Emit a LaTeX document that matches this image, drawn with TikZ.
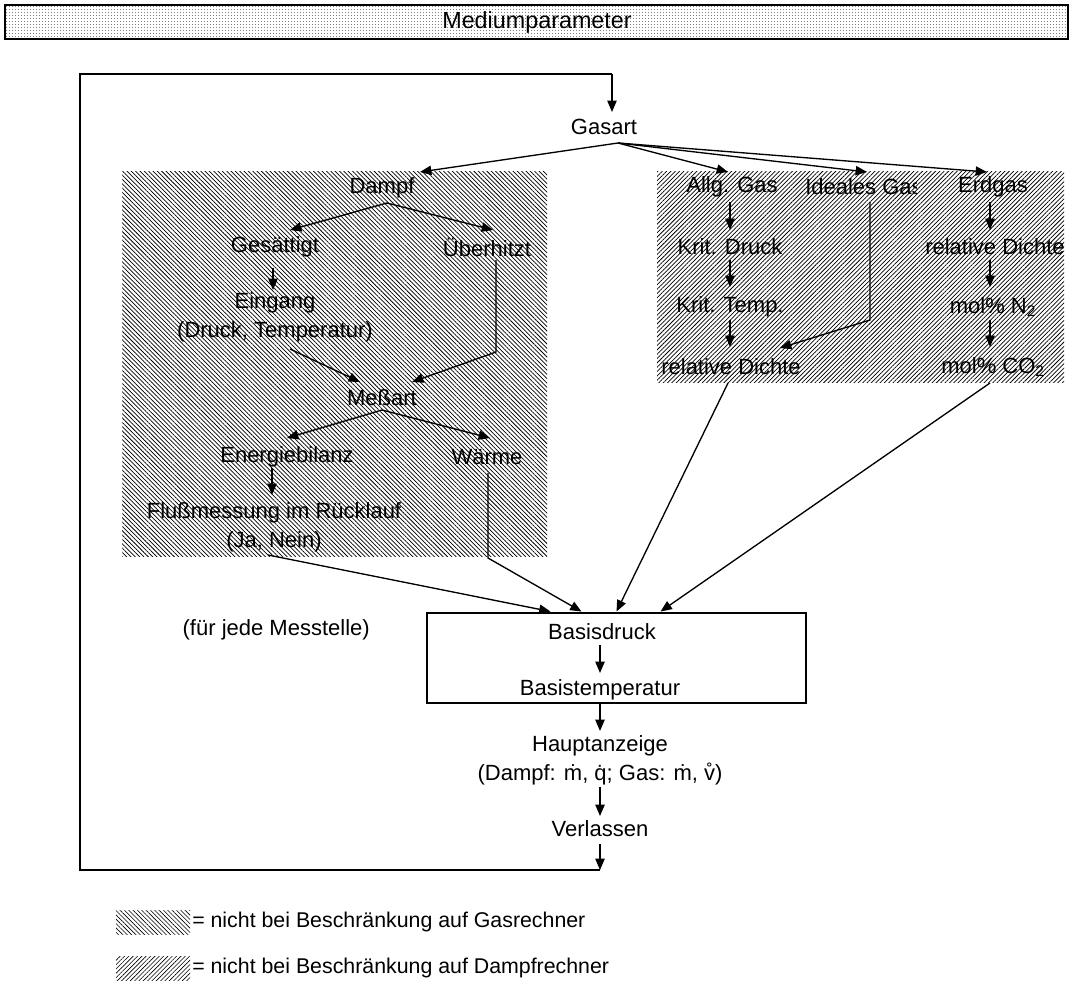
\documentclass[tikz,border=0pt]{standalone}
\usepackage{fontspec}
\setmainfont{Liberation Sans}
\usetikzlibrary{arrows.meta,patterns,patterns.meta,calc}

% fine dot raster for the title bar
\pgfdeclarepatternformonly{finedots}{\pgfpointorigin}{\pgfpoint{2.25pt}{2.25pt}}{\pgfpoint{2.25pt}{2.25pt}}%
  {\pgfpathrectangle{\pgfpointorigin}{\pgfpoint{0.8pt}{0.8pt}}\pgfusepath{fill}}

\begin{document}
\begin{tikzpicture}[x=0.75pt,y=-0.75pt,
  txt/.style={font=\fontsize{16.5}{21.5}\selectfont, inner sep=0pt, align=center},
  arr/.style={line width=1pt, -{Triangle[length=8.5pt,width=7pt]}},
  ln/.style={line width=1pt},
  hatchL/.style={pattern={Lines[angle=-45,distance=2.3pt,line width=0.55pt]}},
  hatchR/.style={pattern={Lines[angle=45,distance=2.3pt,line width=0.55pt]}},
  keyL/.style={pattern={Lines[angle=-45,distance=2.3pt,line width=0.45pt]}},
  keyR/.style={pattern={Lines[angle=45,distance=2.3pt,line width=0.45pt]}},
]
\useasboundingbox (0,0) rectangle (1074,994);

% title bar
\draw[line width=2pt, pattern=finedots, pattern color=gray] (5,5) rectangle (1068,39);
\node[txt, font=\fontsize{17.5}{21}\selectfont] (title) at (537,22) {Mediumparameter};

% hatched areas
\fill[hatchL] (122,172) rectangle (547,556);
\fill[hatchR] (657,172) rectangle (1064,383);

% steam branch
\node[txt] (gasart) at (604,127) {Gasart};
\node[txt] (dampf) at (382,188) {Dampf};
\node[txt] (ges) at (275,247) {Gesättigt};
\node[txt] (ueb) at (487,247) {Überhitzt};
\node[txt] (ein) at (275,317) {Eingang\\(Druck, Temperatur)};
\node[txt] (mess) at (382,398) {Meßart};
\node[txt] (ener) at (287,457) {Energiebilanz};
\node[txt] (waer) at (487,457) {Wärme};
\node[txt] (flu) at (274,527) {Flußmessung im Rücklauf\\(Ja, Nein)};

% gas branch
\node[txt] (allg) at (732,187) {Allg. Gas};
\begin{scope}
  \clip (790,160) rectangle (916,210);
  \node[txt, anchor=west] (ideal) at (805,187) {Ideales Gas};
\end{scope}
\node[txt] (erd) at (993,187) {Erdgas};
\node[txt] (kdr) at (730,247) {Krit. Druck};
\begin{scope}
  \clip (900,225) rectangle (1063,270);
  \node[txt, anchor=west] (relE) at (925,247) {relative Dichte};
\end{scope}
\node[txt] (ktp) at (730,307) {Krit. Temp.};
\node[txt] (n2) at (993,307) {mol\% N\textsubscript{2}};
\node[txt] (relA) at (731,367) {relative Dichte};
\node[txt] (co2) at (993,367) {mol\% CO\textsubscript{2}};

% base values and display
\node[draw, line width=2.2pt, minimum width=284.25pt, minimum height=67.5pt, inner sep=0pt] (box) at (616.5,658) {};
\node[txt] (bdr) at (602,632) {Basisdruck};
\node[txt] (btp) at (600,690) {Basistemperatur};
\node[txt, anchor=east] (fjm) at (370,630) {(für jede Messtelle)};
\node[txt] (haupt) at (600,760) {Hauptanzeige\\(Dampf: \.{m}, \.{q}; Gas: \.{m}, \r{v})};
\node[txt] (verl) at (600,829) {Verlassen};

% fan-out from Gasart
\coordinate (gs) at ($(gasart)+(14,16)$);
\draw[arr] (gs) -- ($(dampf)+(38,-16)$);
\draw[arr] (gs) -- ($(allg)+(-4,-15)$);
\draw[arr] (gs) -- ($(ideal.west)+(62,-15)$);
\draw[arr] (gs) -- ($(erd)+(-6,-15)$);

% steam connections
\draw[arr] ($(dampf)+(5,15)$) -- ($(ges)+(15,-17)$);
\draw[arr] ($(dampf)+(5,15)$) -- ($(ueb)+(6,-17)$);
\draw[arr] ($(ges)+(-2,21)$) -- ($(ein)+(-2,-27)$);
\draw[arr] ($(ueb)+(9,13)$) -- ($(ueb)+(9,105)$) -- ($(mess)+(30,-16)$);
\draw[arr] ($(ein)+(15,32)$) -- ($(mess)+(-22,-16)$);
\draw[arr] ($(mess)+(0,12)$) -- ($(ener)+(0,-19)$);
\draw[arr] ($(mess)+(0,12)$) -- ($(waer)+(3,-19)$);
\draw[arr] ($(ener)+(-15,11)$) -- ($(flu)+(-2,-32)$);

% gas connections
\draw[arr] ($(allg)+(-2,15)$) -- ($(kdr)+(0,-17)$);
\draw[arr] ($(kdr)+(0,13)$) -- ($(ktp)+(0,-20)$);
\draw[arr] ($(ktp)+(0,13)$) -- ($(relA)+(-1,-20)$);
\draw[arr] ($(ideal.west)+(65,15)$) -- ($(ideal.west)+(65,133)$) -- ($(relA)+(49,-19)$);
\draw[arr] ($(erd)+(-3,15)$) -- ($(relE.west)+(65,-17)$);
\draw[arr] ($(relE.west)+(65,13)$) -- ($(n2)+(-3,-20)$);
\draw[arr] ($(n2)+(-3,13)$) -- ($(co2)+(-3,-20)$);

% into the base box
\draw[arr] ($(flu)+(-6,28)$) -- ($(box.north west)+(125,0)$);
\draw[arr] ($(waer)+(1,16)$) -- ($(waer)+(1,101)$) -- ($(box.north west)+(156,0)$);
\draw[arr] ($(relA)+(-3,16)$) -- ($(box.north west)+(191,0)$);
\draw[arr] ($(co2)+(-3,16)$) -- ($(box.north west)+(235,0)$);

% main chain
\draw[arr] ($(bdr)+(-2,13)$) -- ($(btp)+(0,-17)$);
\draw[arr] (box.south -| btp) -- ($(haupt)+(0,-29)$);
\draw[arr] ($(haupt)+(0,27)$) -- ($(verl)+(0,-13)$);

% loop back to Gasart
\coordinate (lb) at (600,870);
\coordinate (lbl) at (80,870);
\coordinate (ltl) at (80,74);
\coordinate (ltr) at (612,74);
\draw[arr] ($(verl)+(0,15)$) -- (lb);
\draw[ln] (lb) -- (lbl) -- (ltl) -- (ltr);
\draw[arr] (ltr) -- ($(gasart)+(8,-15)$);

% legend
\fill[keyL] (116,910) rectangle (190,934);
\node[txt, font=\fontsize{16}{20}\selectfont, anchor=west] (leg1) at (192,922) {= nicht bei Beschränkung auf Gasrechner};
\fill[keyR] (116,956) rectangle (190,980);
\node[txt, font=\fontsize{16}{20}\selectfont, anchor=west] (leg2) at (192,968) {= nicht bei Beschränkung auf Dampfrechner};
\end{tikzpicture}
\end{document}
